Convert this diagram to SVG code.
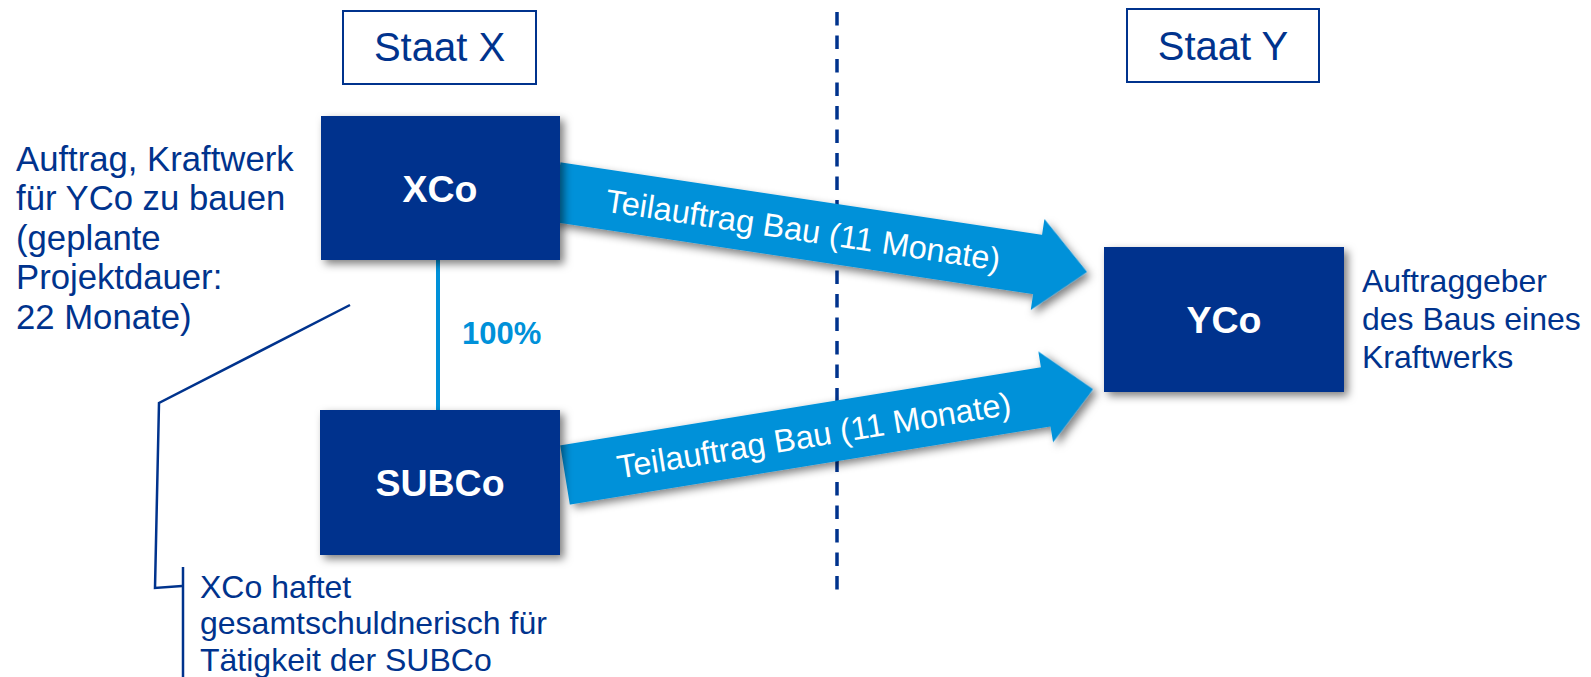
<svg xmlns="http://www.w3.org/2000/svg" width="1591" height="677" viewBox="0 0 1591 677">
<defs>
<filter id="sh" x="-10%" y="-20%" width="130%" height="150%">
<feDropShadow dx="4" dy="4" stdDeviation="4" flood-color="#000" flood-opacity="0.5"/>
</filter>
<style>
text{font-family:"Liberation Sans",Arial,sans-serif}
.state{fill:#fff;stroke:#00338D;stroke-width:2}
.stateT{font-size:40px;fill:#00338D;text-anchor:middle}
.co{fill:#00338D;filter:url(#sh)}
.coT{font-size:37.5px;font-weight:bold;fill:#fff;text-anchor:middle}
.arrow{fill:#0091D9;filter:url(#sh)}
.arrT{font-size:32.5px;fill:#fff;text-anchor:middle}
.note{font-size:32px;fill:#00338D}
.line{fill:none;stroke:#00338D;stroke-width:2.5}
</style>
</defs>
<rect width="1591" height="677" fill="#fff"/>

<g id="connectors">
<line x1="837" y1="12" x2="837" y2="590" stroke="#00338D" stroke-width="3.5" stroke-dasharray="13.5 10"/>
<line x1="438" y1="258" x2="438" y2="412" stroke="#0091D9" stroke-width="4"/>
<text x="462" y="344" font-size="31" font-weight="bold" fill="#0091D9" style="font-family:'Liberation Sans',Arial,sans-serif">100%</text>
<g id="arrow-upper" transform="translate(556,192) rotate(8.56)">
<polygon class="arrow" points="0,-30 487,-30 487,-46 537,0 487,46 487,30 0,30"/>
<text class="arrT" x="250" y="12">Teilauftrag Bau (11 Monate)</text>
</g>
<g id="arrow-lower" transform="translate(565,475) rotate(-9.23)">
<polygon class="arrow" points="0,-30 487,-30 487,-46 535,0 487,46 487,30 0,30"/>
<text class="arrT" x="252" y="12">Teilauftrag Bau (11 Monate)</text>
</g>
<polyline class="line" points="350,305 159,403 155,588 182,586"/>
<line class="line" x1="183" y1="567" x2="183" y2="677"/>
</g>

<g id="staat-x">
<rect class="state" x="343" y="11" width="193" height="73"/>
<text class="stateT" x="439.5" y="61">Staat X</text>
</g>
<g id="staat-y">
<rect class="state" x="1127" y="9" width="192" height="73"/>
<text class="stateT" x="1223" y="60">Staat Y</text>
</g>

<g id="xco">
<rect class="co" x="321" y="116" width="239" height="144"/>
<text class="coT" x="440" y="202">XCo</text>
</g>
<g id="subco">
<rect class="co" x="320" y="410" width="240" height="145"/>
<text class="coT" x="440" y="496">SUBCo</text>
</g>
<g id="yco">
<rect class="co" x="1104" y="247" width="240" height="145"/>
<text class="coT" x="1224" y="333">YCo</text>
</g>

<g id="note-left">
<text class="note" style="font-size:34.7px"><tspan x="16" y="171">Auftrag, Kraftwerk</tspan><tspan x="16" y="210">für YCo zu bauen</tspan><tspan x="16" y="250">(geplante</tspan><tspan x="16" y="289">Projektdauer:</tspan><tspan x="16" y="329">22 Monate)</tspan></text>
</g>
<g id="note-right">
<text class="note"><tspan x="1362" y="292">Auftraggeber</tspan><tspan x="1362" y="330">des Baus eines</tspan><tspan x="1362" y="368">Kraftwerks</tspan></text>
</g>
<g id="note-bottom">
<text class="note"><tspan x="200" y="598">XCo haftet</tspan><tspan x="200" y="634">gesamtschuldnerisch für</tspan><tspan x="200" y="671">Tätigkeit der SUBCo</tspan></text>
</g>
</svg>
